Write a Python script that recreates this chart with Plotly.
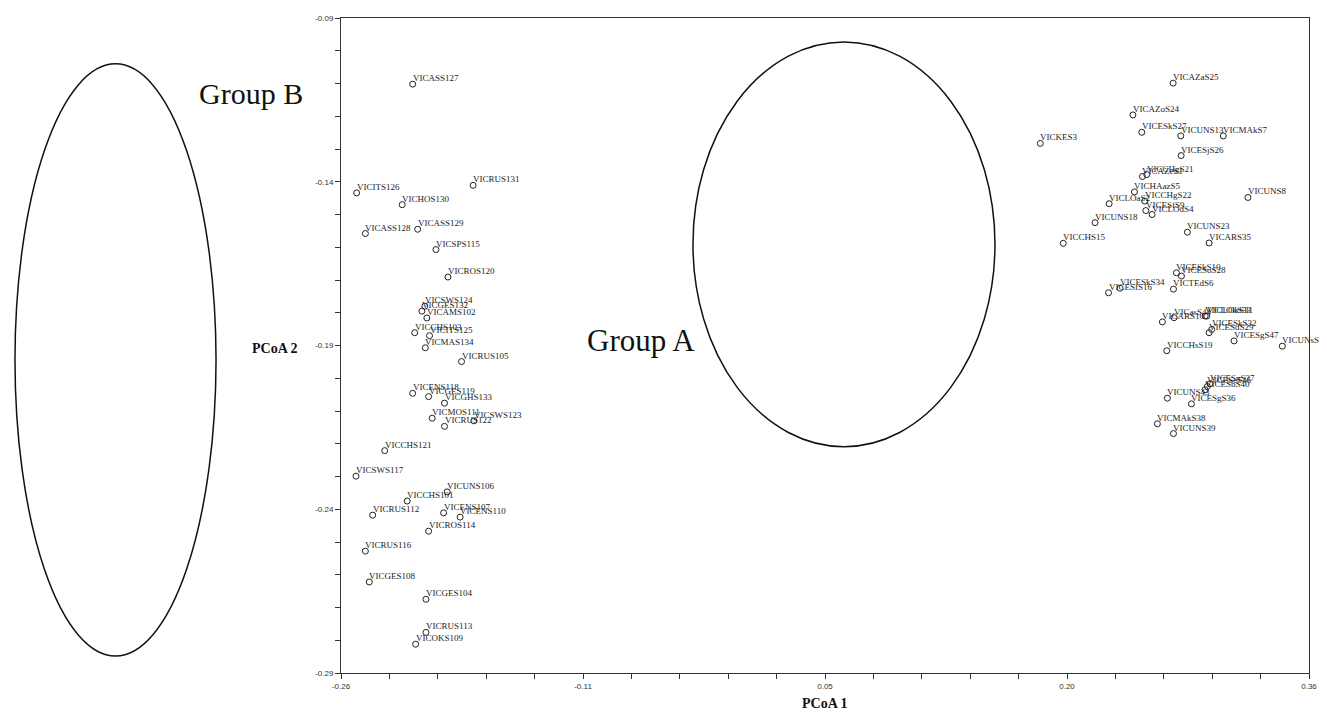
import plotly.graph_objects as go

# ---- data ----
left_names = ["VICASS127", "VICITS126", "VICHOS130", "VICRUS131", "VICASS128", "VICASS129",
              "VICSPS115", "VICROS120", "VICSWS124", "VICGES132", "VICAMS102", "VICCHS103",
              "VICITS125", "VICMAS134", "VICRUS105", "VICENS118", "VICGES119", "VICGHS133",
              "VICMOS111", "VICSWS123", "VICRUS122", "VICCHS121", "VICSWS117", "VICUNS106",
              "VICCHS101", "VICRUS112", "VICENS107", "VICENS110", "VICROS114", "VICRUS116",
              "VICGES108", "VICGES104", "VICRUS113", "VICOKS109"]
left_x = [-0.2141, -0.2500, -0.2208, -0.1754, -0.2444, -0.2109,
          -0.1992, -0.1915, -0.2063, -0.2082, -0.2050, -0.2128,
          -0.2033, -0.2060, -0.1828, -0.2141, -0.2039, -0.1937,
          -0.2016, -0.1749, -0.1937, -0.2320, -0.2504, -0.1920,
          -0.2176, -0.2397, -0.1943, -0.1837, -0.2039, -0.2444,
          -0.2419, -0.2056, -0.2056, -0.2122]
left_y = [-0.1102, -0.1434, -0.1470, -0.1411, -0.1558, -0.1545,
          -0.1607, -0.1691, -0.1780, -0.1795, -0.1816, -0.1861,
          -0.1870, -0.1907, -0.1949, -0.2046, -0.2056, -0.2076,
          -0.2122, -0.2130, -0.2147, -0.2221, -0.2299, -0.2347,
          -0.2375, -0.2418, -0.2411, -0.2424, -0.2467, -0.2528,
          -0.2622, -0.2675, -0.2776, -0.2812]

right_names = ["VICAZaS25", "VICAZoS24", "VICESkS27", "VICUNS13", "VICMAkS7", "VICKES3",
               "VICESjS26", "VICAZeS1", "VICCHgS21", "VICHAazS5", "VICLOaS2", "VICCHgS22",
               "VICESfS9", "VICLOdS4", "VICUNS18", "VICCHS15", "VICUNS23", "VICARS35",
               "VICUNS8", "VICESkS10", "VICESoS28", "VICTEdS6", "VICESkS34", "VICESfS16",
               "VICARS10", "VICasS44", "VICLOkS31", "VICLOkS33", "VICESkS32", "VICESdS29",
               "VICESgS47", "VICUNsS48", "VICCHsS19", "VICESnS37", "VICESeS46", "VICESbS40",
               "VICUNS43", "VICESgS36", "VICMAkS38", "VICUNS39"]
right_x = [0.2730, 0.2472, 0.2529, 0.2779, 0.3051, 0.1879,
           0.2781, 0.2533, 0.2561, 0.2482, 0.2320, 0.2548,
           0.2555, 0.2595, 0.2230, 0.2026, 0.2821, 0.2960,
           0.3209, 0.2751, 0.2783, 0.2732, 0.2390, 0.2316,
           0.2661, 0.2736, 0.2945, 0.2935, 0.2977, 0.2960,
           0.3120, 0.3429, 0.2689, 0.2966, 0.2949, 0.2934,
           0.2693, 0.2847, 0.2629, 0.2732]
right_y = [-0.1099, -0.1196, -0.1249, -0.1260, -0.1260, -0.1283,
           -0.1320, -0.1384, -0.1378, -0.1431, -0.1467, -0.1459,
           -0.1488, -0.1500, -0.1525, -0.1588, -0.1554, -0.1587,
           -0.1448, -0.1678, -0.1688, -0.1728, -0.1725, -0.1739,
           -0.1828, -0.1815, -0.1810, -0.1810, -0.1851, -0.1861,
           -0.1886, -0.1902, -0.1916, -0.2017, -0.2025, -0.2035,
           -0.2061, -0.2078, -0.2139, -0.2169]

x_tickvals = [-0.26, -0.105, 0.05, 0.205, 0.36]
x_ticktext = ["-0.26", "-0.11", "0.05", "0.20", "0.36"]
y_tickvals = [-0.29, -0.24, -0.19, -0.14, -0.09]
y_ticktext = ["-0.29", "-0.24", "-0.19", "-0.14", "-0.09"]

names = left_names + right_names
xs = left_x + right_x
ys = left_y + right_y

SERIF = "Liberation Serif, Times New Roman, serif"
TICKFONT = dict(family="Liberation Sans Narrow, Arial Narrow, Liberation Sans, sans-serif", size=8, color="#333")
AX = "#333"

fig = go.Figure()
fig.add_trace(go.Scatter(
    x=xs, y=ys, mode="markers",
    marker=dict(symbol="circle-open", size=6, color="#222", line=dict(width=1, color="#222")),
    cliponaxis=False, showlegend=False, text=names, hoverinfo="text"))

# point labels, just above-right of each marker
for n, x, y in zip(names, xs, ys):
    fig.add_annotation(x=x, y=y, text=n, showarrow=False, xanchor="left", yanchor="middle",
                       xshift=-1, yshift=6, borderpad=0,
                       font=dict(family=SERIF, size=9, color="#222"))

fig.update_xaxes(range=[-0.26, 0.36], tickmode="array", tickvals=x_tickvals, ticktext=x_ticktext,
                 ticks="outside", ticklen=5, tickcolor=AX, tickfont=TICKFONT,
                 showline=True, linecolor=AX, linewidth=1, mirror=True,
                 showgrid=False, zeroline=False,
                 minor=dict(tickmode="linear", tick0=-0.26, dtick=0.031, ticks="outside",
                            ticklen=5, tickcolor=AX, showgrid=False))
fig.update_yaxes(range=[-0.29, -0.09], tickmode="array", tickvals=y_tickvals, ticktext=y_ticktext,
                 ticks="outside", ticklen=5, tickcolor=AX, tickfont=TICKFONT,
                 showline=True, linecolor=AX, linewidth=1, mirror=True,
                 showgrid=False, zeroline=False,
                 minor=dict(tickmode="linear", tick0=-0.29, dtick=0.01, ticks="outside",
                            ticklen=5, tickcolor=AX, showgrid=False))

# group ellipses (paper coordinates, allowed to extend outside the plot area)
fig.add_shape(type="circle", xref="paper", yref="paper",
              x0=-0.3368, x1=-0.1291, y0=0.0259, y1=0.930,
              line=dict(color="#111", width=1.5))
fig.add_shape(type="circle", xref="paper", yref="paper",
              x0=0.3636, x1=0.6756, y0=0.3455, y1=0.9635,
              line=dict(color="#111", width=1.5))

fig.add_annotation(text="Group B", xref="paper", yref="paper", x=-0.093, y=0.884,
                   xanchor="center", yanchor="middle",
                   showarrow=False, font=dict(family=SERIF, size=30, color="#111"))
fig.add_annotation(text="Group A", xref="paper", yref="paper", x=0.310, y=0.507,
                   xanchor="center", yanchor="middle",
                   showarrow=False, font=dict(family=SERIF, size=31, color="#111"))
fig.add_annotation(text="<b>PCoA 1</b>", xref="paper", yref="paper", x=0.5, y=-0.047,
                   xanchor="center", yanchor="middle",
                   showarrow=False, font=dict(family=SERIF, size=14, color="#111"))
fig.add_annotation(text="<b>PCoA 2</b>", xref="paper", yref="paper", x=-0.0682, y=0.496,
                   xanchor="center", yanchor="middle",
                   showarrow=False, font=dict(family=SERIF, size=14, color="#111"))

# page has an 8px body margin, so the figure is sized/margined to compensate
fig.update_layout(width=1319, height=705, plot_bgcolor="white", paper_bgcolor="white",
                  margin=dict(l=333, r=18, t=6, b=40), showlegend=False)

fig.write_html("out.html")
